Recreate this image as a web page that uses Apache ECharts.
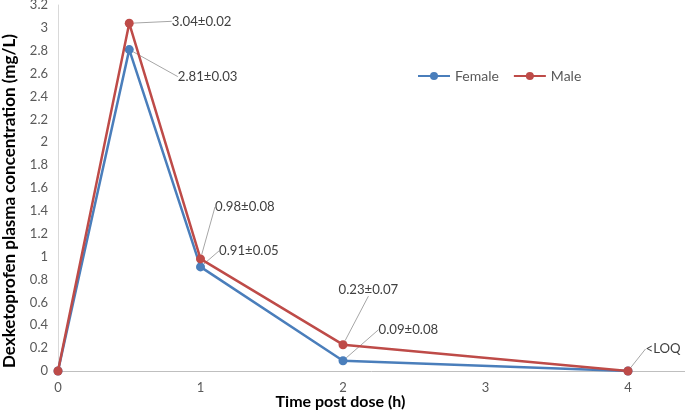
<!DOCTYPE html>
<html><head><meta charset="utf-8">
<script src="https://cdn.jsdelivr.net/npm/echarts@6/dist/echarts.min.js"></script>
<style>html,body{margin:0;padding:0;background:#fff}#c{width:685px;height:413px}</style>
</head><body><div id="c"></div>
<script>
const times = [0, 0.5, 1, 2, 4];
const female = [0, 2.81, 0.91, 0.09, 0];
const male = [0, 3.04, 0.98, 0.23, 0];
const femaleLabels = ['', '2.81±0.03', '0.91±0.05', '0.09±0.08', ''];
const maleLabels = ['', '3.04±0.02', '0.98±0.08', '0.23±0.07', '<LOQ'];
const xTicks = [0, 1, 2, 3, 4];

const FONT = 'Lato';
const femaleOff = [null, [44, 27], [14, -16], [31, -31], null];
const maleOff = [null, [38, -2], [10, -52], [-9, -55], [13, -22]];

function series(name, ys, labels, color, off, z) {
  return {
    name, type: 'line', z,
    data: times.map((t, i) => [t, ys[i]]),
    symbol: 'circle', symbolSize: 9,
    lineStyle: {width: 2.5, color},
    itemStyle: {color},
    label: {
      show: true, position: 'right', distance: 0,
      formatter: p => labels[p.dataIndex],
      fontFamily: FONT, fontSize: 13.2, color: '#404040'
    },
    labelLine: {show: true, lineStyle: {color: '#a6a6a6', width: 1}},
    labelLayout: p => {
      const o = off[p.dataIndex];
      return o ? {dx: o[0], dy: o[1]} : {};
    }
  };
}

const chart = echarts.init(document.getElementById('c'));
chart.setOption({
  animation: false,
  textStyle: {fontFamily: FONT},
  grid: {left: 58, right: 0, top: 5, bottom: 42, containLabel: false, outerBoundsMode: 'none'},
  legend: {
    left: 412, top: 64, itemWidth: 32, itemHeight: 10, itemGap: 14,
    textStyle: {fontFamily: FONT, fontSize: 14, color: '#595959'},
    data: ['Female', 'Male']
  },
  xAxis: {
    type: 'value', min: 0, max: 4.4, interval: 1,
    name: 'Time post dose (h)', nameLocation: 'middle', nameGap: 23, nameMoveOverlap: false,
    nameTextStyle: {fontFamily: FONT, fontWeight: 'bold', fontSize: 16, color: '#000', padding: [0, 62, 0, 0]},
    axisLine: {lineStyle: {color: '#bfbfbf', width: 1}},
    axisTick: {show: false},
    splitLine: {show: false},
    axisLabel: {fontFamily: FONT, fontSize: 13, color: '#595959', margin: 10,
      formatter: v => xTicks.includes(v) ? String(v) : '', showMaxLabel: false}
  },
  yAxis: {
    type: 'value', min: 0, max: 3.2, interval: 0.2,
    name: 'Dexketoprofen plasma concentration (mg/L)', nameLocation: 'middle', nameGap: 40, nameMoveOverlap: false,
    nameTextStyle: {fontFamily: FONT, fontWeight: 'bold', fontSize: 17, color: '#000', padding: [0, 0, 0, -26]},
    axisLine: {show: true, lineStyle: {color: '#d9d9d9', width: 1}},
    axisTick: {show: false},
    splitLine: {show: false},
    axisLabel: {fontFamily: FONT, fontSize: 13, color: '#595959', margin: 10,
      formatter: v => String(parseFloat(v.toFixed(1)))}
  },
  series: [
    series('Female', female, femaleLabels, '#4a7ebb', femaleOff, 2),
    series('Male', male, maleLabels, '#be4b48', maleOff, 3)
  ]
});
</script></body></html>
